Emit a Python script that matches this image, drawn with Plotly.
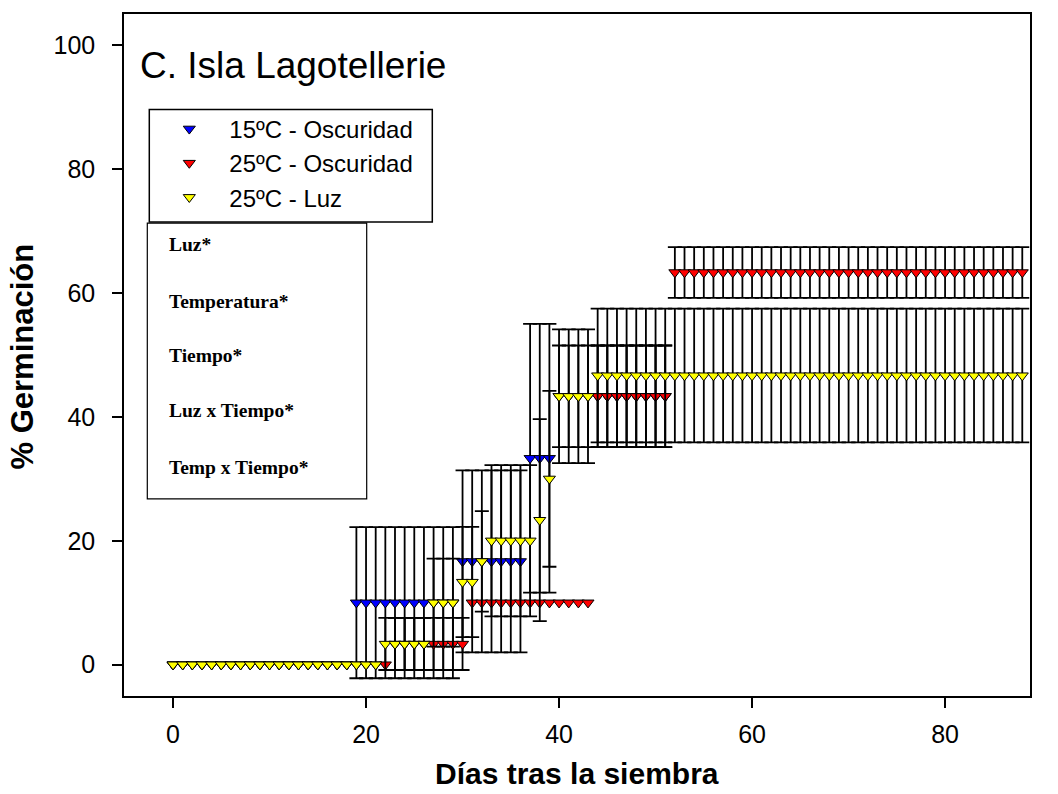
import plotly.graph_objects as go

# ---- data: daily germination (%) and its error, per treatment ----
days_blue = list(range(0, 52))
days_red = list(range(0, 89))
days_yellow = list(range(0, 89))

blue_mean = [0.0] * 19 + [10.0] * 11 + [16.67] * 7 + [33.33] * 3 + [43.33] * 12
blue_err = [0.0] * 19 + [12.2] * 11 + [14.7] * 7 + [21.7] * 3 + [8.2] * 12

red_mean = [0.0] * 23 + [3.33] * 8 + [10.0] * 13 + [43.33] * 8 + [63.33] * 37
red_err = [0.0] * 23 + [4.2] * 8 + [0.0] * 13 + [8.2] * 8 + [4.1] * 37

yellow_mean = ([0.0] * 22 + [3.33] * 5 + [10.0] * 3 + [13.33] * 2 + [16.67]
               + [20.0] * 5 + [23.33] + [30.0] + [43.33] * 4 + [46.67] * 45)
yellow_err = ([0.0] * 22 + [4.2] * 5 + [7.1] * 3 + [8.9] * 2 + [8.1]
              + [12.2] * 5 + [16.3] + [14.2] + [10.8] * 4 + [10.8] * 45)

series_names = ["15ºC - Oscuridad", "25ºC - Oscuridad", "25ºC - Luz"]
series_colors = ["#0000FF", "#FF0000", "#FFFF00"]

stats_labels = ["Luz*", "Temperatura*", "Tiempo*", "Luz x Tiempo*", "Temp x Tiempo*"]

x_ticks = [0, 20, 40, 60, 80]
y_ticks = [0, 20, 40, 60, 80, 100]

# ---- figure geometry (pixels) ----
W, H = 1058, 794
PL, PR, PT, PB = 124, 1030, 12, 696


def px(xp):
    return (xp - PL) / (PR - PL)


def py(yp):
    return (PB - yp) / (PB - PT)


SANS = "Arial, Liberation Sans, sans-serif"
SERIF = "Times New Roman, Liberation Serif, serif"

fig = go.Figure()

groups = [
    (days_blue, blue_mean, blue_err),
    (days_red, red_mean, red_err),
    (days_yellow, yellow_mean, yellow_err),
]

for (d, m, e), name, color in zip(groups, series_names, series_colors):
    # error bars only where there is spread
    ed = [di for di, ei in zip(d, e) if ei > 0]
    em = [mi for mi, ei in zip(m, e) if ei > 0]
    ee = [ei for ei in e if ei > 0]
    fig.add_trace(go.Scatter(
        x=ed, y=em, mode="markers",
        marker=dict(size=1, opacity=0),
        error_y=dict(type="data", array=ee, symmetric=True,
                     color="black", thickness=1.8, width=7),
        showlegend=False, hoverinfo="skip",
    ))
    fig.add_trace(go.Scatter(
        x=d, y=m, mode="markers", name=name,
        marker=dict(symbol="triangle-down", size=10.5, color=color,
                    line=dict(color="black", width=1)),
    ))

axis_common = dict(
    showline=True, mirror=True, linecolor="black", linewidth=1.5,
    ticks="outside", ticklen=10, tickwidth=1.5, tickcolor="black",
    showgrid=False, zeroline=False,
    tickfont=dict(family=SANS, size=25, color="black"),
)

fig.update_xaxes(range=[-5.08, 88.8], tickvals=x_ticks, ticklabelstandoff=5, **axis_common)
fig.update_yaxes(range=[-5.07, 105.06], tickvals=y_ticks, ticklabelstandoff=12, **axis_common)

annotations = [
    dict(text="C. Isla Lagotellerie", x=px(138), y=py(64), xref="paper", yref="paper",
         xanchor="left", yanchor="middle", showarrow=False,
         font=dict(family=SANS, size=37, color="black")),
    dict(text="Días tras la siembra", x=px(577), y=py(774), xref="paper", yref="paper",
         xanchor="center", yanchor="middle", showarrow=False,
         font=dict(family=SANS, size=30, color="black", weight="bold")),
    dict(text="% Germinación", x=px(22.5), y=py(356), xref="paper", yref="paper",
         xanchor="center", yanchor="middle", showarrow=False, textangle=-90,
         font=dict(family=SANS, size=31, color="black", weight="bold")),
]

stats_y = [243, 300, 355, 410, 466.7]
for label, yy in zip(stats_labels, stats_y):
    annotations.append(dict(
        text=label, x=px(167), y=py(yy), xref="paper", yref="paper",
        xanchor="left", yanchor="middle", showarrow=False,
        font=dict(family=SERIF, size=19.5, color="black", weight="bold"),
    ))

shapes = [
    # legend frame
    dict(type="rect", xref="paper", yref="paper",
         x0=px(149.3), x1=px(432.3), y0=py(220.7), y1=py(107.7),
         line=dict(color="black", width=1.5), fillcolor="rgba(0,0,0,0)"),
    # statistics frame
    dict(type="rect", xref="paper", yref="paper",
         x0=px(147.3), x1=px(366.7), y0=py(498.3), y1=py(221.7),
         line=dict(color="black", width=1.2), fillcolor="rgba(0,0,0,0)"),
]

fig.update_layout(
    width=W, height=H,
    margin=dict(l=PL, r=W - PR, t=PT, b=H - PB, pad=0),
    paper_bgcolor="white", plot_bgcolor="white",
    annotations=annotations, shapes=shapes,
    legend=dict(
        x=px(149.3), y=py(105), xanchor="left", yanchor="top",
        bgcolor="rgba(0,0,0,0)", borderwidth=0,
        font=dict(family=SANS, size=24, color="black"),
        itemwidth=70, tracegroupgap=0,
    ),
)

fig.write_html("out.html")
